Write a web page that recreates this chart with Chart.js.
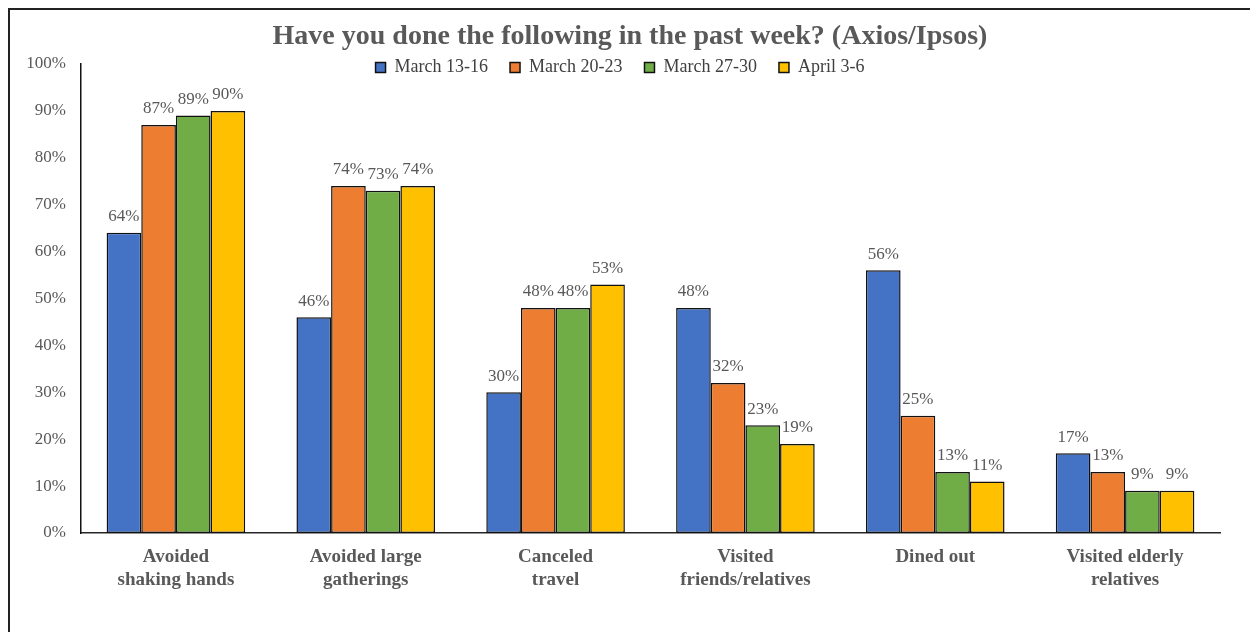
<!DOCTYPE html>
<html>
<head>
<meta charset="utf-8">
<script src="https://cdn.jsdelivr.net/npm/chart.js@4"></script>
<style>
  body { margin: 0; background: #fff; overflow: hidden; }
  #frame { position: absolute; left: 8px; top: 8px; width: 1300px; height: 700px; border: 2px solid #222; }
  #myChart { position: absolute; left: 0; top: 0; }
</style>
</head>
<body>
<div id="frame"></div>
<canvas id="myChart" width="1250" height="632"></canvas>
<script>
const ctx = document.querySelector('#myChart').getContext('2d');

// categories (multi-line as in the original)
const labels = [
    ['Avoided', 'shaking hands'],
    ['Avoided large', 'gatherings'],
    ['Canceled', 'travel'],
    ['Visited', 'friends/relatives'],
    ['Dined out'],
    ['Visited elderly', 'relatives'],
];
const seriesNames = ['March 13-16', 'March 20-23', 'March 27-30', 'April 3-6'];
const march13 = [64, 46, 30, 48, 56, 17];
const march20 = [87, 74, 48, 32, 25, 13];
const march27 = [89, 73, 48, 23, 13, 9];
const april3 = [90, 74, 53, 19, 11, 9];
const yTicks = [0, 10, 20, 30, 40, 50, 60, 70, 80, 90, 100];

const colors = ['#4472C4', '#ED7D31', '#70AD47', '#FFC000'];
const serif = '"Liberation Serif", "Times New Roman", serif';
const gray = '#595959';

const values = [march13, march20, march27, april3];
const data = {
    labels,
    datasets: values.map((v, i) => ({
        label: seriesNames[i],
        data: v,
        backgroundColor: colors[i],
        borderColor: '#111',
        borderWidth: 1.5,
        borderSkipped: false,
        categoryPercentage: 0.73,
        barPercentage: 1,
    }))
};

// value labels above each bar, and title/legend placement like the excel chart
const barLabels = {
    id: 'barLabels',
    afterInit(chart) {
        // legend overlaps the plot top in the original, so it takes no layout height
        const lg = chart.legend;
        const fit = lg.fit;
        lg.fit = function () { fit.call(this); this.height = 0; };
    },
    afterLayout(chart) {
        const lg = chart.legend;
        lg.left = 10;
        lg.right = 1230;
        lg.top = 36.5;
        lg.height = 60;
        lg.bottom = lg.top + lg.height;
        const t = chart.titleBlock;
        t.left = 40;
    },
    afterDatasetsDraw(chart) {
        const c = chart.ctx;
        c.save();
        c.font = '17px ' + serif;
        c.fillStyle = gray;
        c.textAlign = 'center';
        c.textBaseline = 'middle';
        chart.data.datasets.forEach((ds, i) => {
            chart.getDatasetMeta(i).data.forEach((bar, j) => {
                c.fillText(ds.data[j] + '%', bar.x, bar.y - 16);
            });
        });
        c.restore();
    }
};

const config = {
    type: 'bar',
    data: data,
    options: {
        responsive: false,
        animation: false,
        devicePixelRatio: 1,
        layout: { padding: { left: 0, right: 30, top: 0, bottom: 0 } },
        plugins: {
            title: {
                display: true,
                text: 'Have you done the following in the past week? (Axios/Ipsos)',
                color: gray,
                font: { family: serif, size: 28, weight: 'bold', lineHeight: 1.2 },
                padding: { top: 19.5, bottom: 10.9 }
            },
            legend: {
                position: 'top',
                labels: {
                    color: '#404040',
                    font: { family: serif, size: 18 },
                    boxWidth: 10,
                    boxHeight: 10,
                    padding: 22,
                    generateLabels(chart) {
                        return chart.data.datasets.map((ds, i) => ({
                            text: ds.label,
                            fillStyle: ds.backgroundColor,
                            strokeStyle: '#111',
                            lineWidth: 1.5,
                            fontColor: '#404040',
                            datasetIndex: i
                        }));
                    }
                }
            },
            tooltip: { enabled: false }
        },
        scales: {
            x: {
                grid: { display: false, drawTicks: false },
                border: { display: true, color: '#262626', width: 1.5 },
                ticks: {
                    color: gray,
                    padding: 12.6,
                    maxRotation: 0,
                    autoSkip: false,
                    font: { family: serif, size: 19, weight: 'bold', lineHeight: 1.2 }
                },
                afterFit: (s) => { s.height = 99; }
            },
            y: {
                min: yTicks[0],
                max: yTicks[yTicks.length - 1],
                grid: { display: false, drawTicks: false },
                border: { display: true, color: '#111', width: 1.5 },
                afterBuildTicks: (s) => { s.ticks = yTicks.map(v => ({ value: v })); },
                ticks: {
                    color: gray,
                    padding: 15,
                    font: { family: serif, size: 17 },
                    callback: (v) => v + '%'
                },
                afterFit: (s) => { s.width = 81; }
            }
        }
    },
    plugins: [barLabels]
};
const myChart = new Chart(ctx, config);
</script>
</body>
</html>
